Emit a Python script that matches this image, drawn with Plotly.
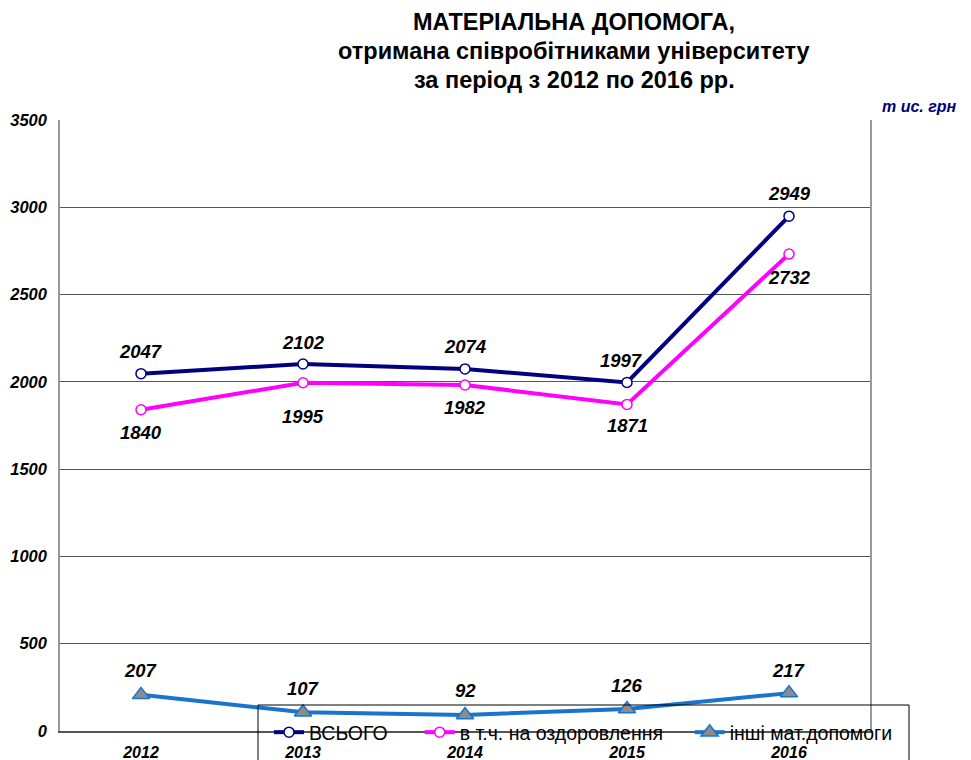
import plotly.graph_objects as go

years = ["2012", "2013", "2014", "2015", "2016"]
total = [2047, 2102, 2074, 1997, 2949]
health = [1840, 1995, 1982, 1871, 2732]
other = [207, 107, 92, 126, 217]
y_ticks = [0, 500, 1000, 1500, 2000, 2500, 3000, 3500]

names = ["ВСЬОГО", "в т.ч. на оздоровлення", "інші мат.допомоги"]
title_lines = ["МАТЕРІАЛЬНА ДОПОМОГА,", "отримана співробітниками університету", "за період з 2012 по 2016 рр."]
unit_label = "т ис. грн"

# label offsets in pixels (style, not data)
total_dy = [22, 22, 22, 22, 23]
total_dx = [0, 0, 0, -6, 0]
health_dy = [-23, -34, -22, -21, -23]
other_dy = [24, 24, 24, 24, 23]

# page offset (body margin) compensation
OFF = 8
W, H = 971 - OFF, 760 - OFF
# plot area in page pixels: x 60..870, y 120..731
L = 60 - OFF
T = 120 - OFF
R = W - (870 - OFF)
B = H - (731 - OFF)
pw, ph = W - L - R, H - T - B

def px(x):
    return (x - OFF - L) / pw

def py(y):
    return (H - B - (y - OFF)) / ph

FAM = "Liberation Sans, Arial"
lblfont = dict(family=FAM, size=18.5, color="black", weight="bold", style="italic")
NB = "\u00a0"

fig = go.Figure()
fig.add_trace(go.Scatter(
    x=years, y=total, name=names[0] + NB * 5, mode="lines+markers",
    line=dict(color="#000080", width=4),
    marker=dict(symbol="circle", size=10, color="white", line=dict(color="#000080", width=1.5)),
))
fig.add_trace(go.Scatter(
    x=years, y=health, name=names[1] + NB * 4, mode="lines+markers",
    line=dict(color="#FF00FF", width=4),
    marker=dict(symbol="circle", size=10, color="white", line=dict(color="#FF00FF", width=1.5)),
))
fig.add_trace(go.Scatter(
    x=years, y=other, name=names[2], mode="lines+markers",
    line=dict(color="#1874CD", width=4),
    marker=dict(symbol="triangle-up", size=15, color="#8C8C8C", line=dict(color="#1874CD", width=1.5)),
))

annotations = []
for series, dys, dxs in ((total, total_dy, total_dx), (health, health_dy, [0] * 5), (other, other_dy, [0] * 5)):
    for i, (v, dy, dx) in enumerate(zip(series, dys, dxs)):
        # category axis: position by category index
        annotations.append(dict(x=i, y=v, xref="x", yref="y", text=str(v), showarrow=False,
                                xanchor="center", yanchor="middle", yshift=dy, xshift=dx, font=lblfont))

title_y = [22, 51, 80]
for line, ty in zip(title_lines, title_y):
    annotations.append(dict(text="<b>" + line + "</b>", xref="paper", yref="paper", x=px(574), y=py(ty),
                            xanchor="center", yanchor="middle", showarrow=False,
                            font=dict(family=FAM, size=23.5, color="black")))
annotations.append(dict(text=unit_label, xref="paper", yref="paper", x=px(919), y=py(106),
                        xanchor="center", yanchor="middle", showarrow=False,
                        font=dict(family=FAM, size=16, color="#000080", weight="bold", style="italic")))

fig.update_layout(
    width=W, height=H,
    margin=dict(l=L, r=R, t=T, b=B, autoexpand=False),
    plot_bgcolor="white", paper_bgcolor="white",
    font=dict(family=FAM, color="black"),
    showlegend=True,
    legend=dict(
        orientation="h", x=px(269), y=py(713), xanchor="left", yanchor="top",
        bgcolor="rgba(0,0,0,0)", borderwidth=0,
        font=dict(family=FAM, size=19.5, color="black"),
        itemwidth=30, tracegroupgap=0,
    ),
    xaxis=dict(
        type="category", range=[-0.5, 4.5], showgrid=False,
        showline=True, linecolor="#555555", linewidth=1.5, mirror=False,
        ticks="", tickfont=dict(size=16, weight="bold", style="italic", color="black"),
        ticklabelstandoff=6,
    ),
    yaxis=dict(
        range=[0, 3500], tickvals=y_ticks, showgrid=True, gridcolor="#555555", gridwidth=1,
        showline=True, linecolor="#999999", linewidth=1.5, mirror=True,
        zeroline=False, ticks="",
        tickfont=dict(size=16.5, weight="bold", style="italic", color="black"),
        ticklabelstandoff=8,
    ),
    annotations=annotations,
    shapes=[
        dict(type="rect", xref="paper", yref="paper", x0=px(258), x1=px(909), y0=py(705), y1=py(800),
             line=dict(color="black", width=1), fillcolor="rgba(0,0,0,0)", layer="above"),
    ],
)

fig.write_html("out.html")
